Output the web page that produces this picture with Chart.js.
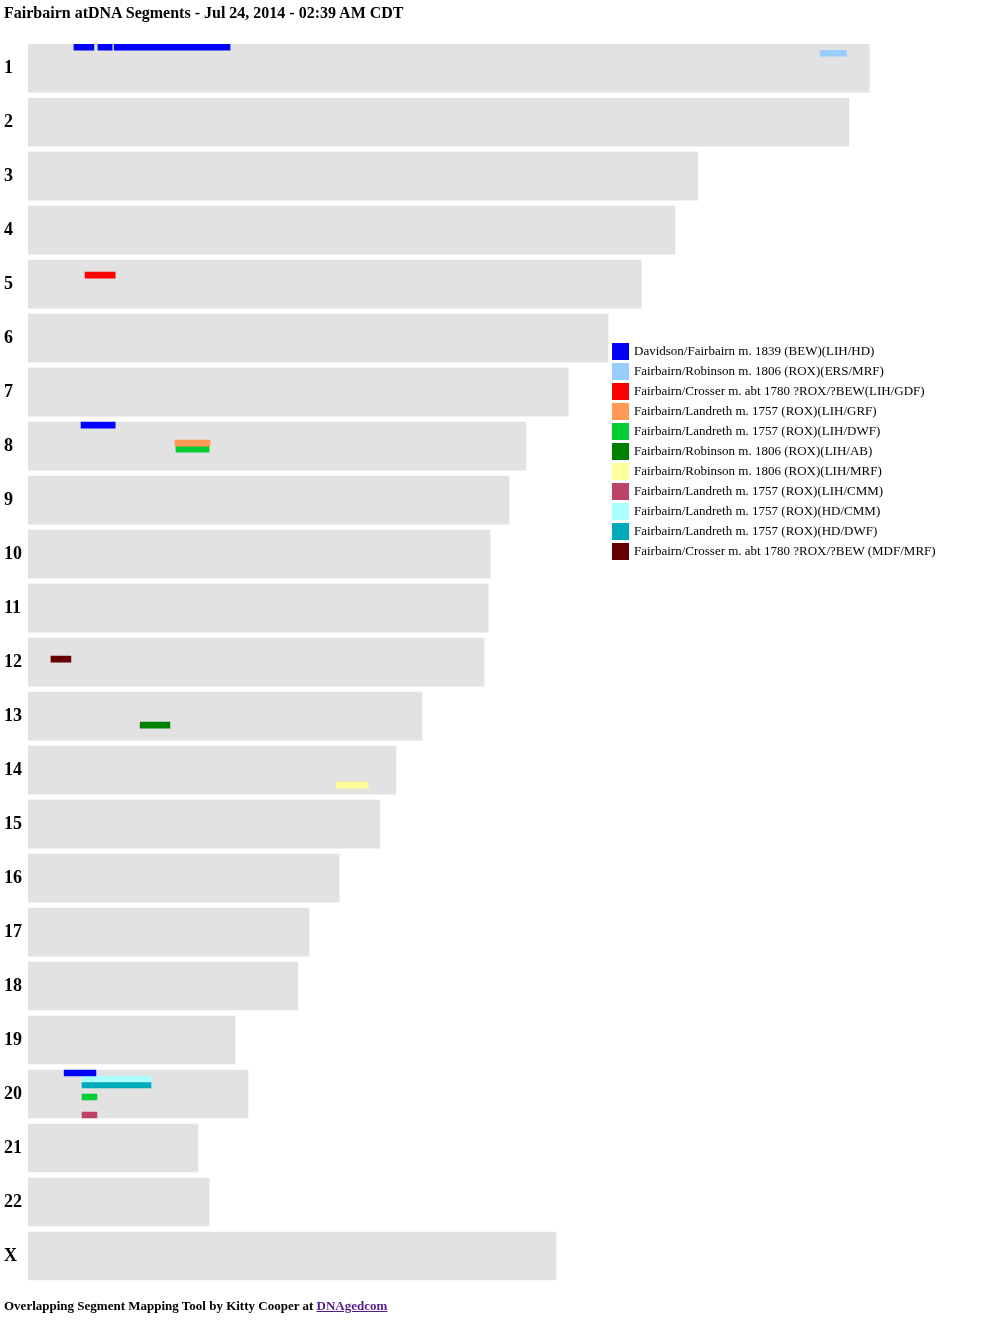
<!DOCTYPE html>
<html>
<head>
<meta charset="utf-8">
<script src="https://cdn.jsdelivr.net/npm/chart.js@4"></script>
<style>
  body { margin: 0; font-family: "Liberation Serif", serif; background: #fff; }
  #title { position: absolute; left: 4px; top: 4px; font-weight: bold; font-size: 16px; }
  #wrap { position: absolute; left: 0; top: 0; width: 998px; height: 1325px; }
  #legend { position: absolute; left: 612px; top: 343px; font-size: 13px; }
  #legend div { height: 20px; line-height: 16px; white-space: nowrap; }
  #legend span { display: inline-block; width: 17px; height: 17px; vertical-align: top; margin-right: 5px; }
  #foot { position: absolute; left: 4px; top: 1298px; font-weight: bold; font-size: 13px; }
  #foot a { color: #551a8b; }
</style>
</head>
<body>
<div id="wrap"><canvas id="c"></canvas></div>
<div id="title">Fairbairn atDNA Segments - Jul 24, 2014 - 02:39 AM CDT</div>
<div id="legend"></div>
<div id="foot">Overlapping Segment Mapping Tool by Kitty Cooper at <a href="#">DNAgedcom</a></div>
<script>
// chromosomes and lengths (Mb)
const chromosomes = ['1','2','3','4','5','6','7','8','9','10','11','12','13','14','15','16','17','18','19','20','21','22','X'];
const lengths = [249.0, 243.0, 198.3, 191.5, 181.5, 171.7, 159.9, 147.4, 142.4, 136.8, 136.2, 135.0,
                 116.6, 108.9, 104.1, 92.1, 83.2, 79.9, 61.3, 65.1, 50.3, 53.6, 156.3];

const groups = [
  'Davidson/Fairbairn m. 1839 (BEW)(LIH/HD)',
  'Fairbairn/Robinson m. 1806 (ROX)(ERS/MRF)',
  'Fairbairn/Crosser m. abt 1780 ?ROX/?BEW(LIH/GDF)',
  'Fairbairn/Landreth m. 1757 (ROX)(LIH/GRF)',
  'Fairbairn/Landreth m. 1757 (ROX)(LIH/DWF)',
  'Fairbairn/Robinson m. 1806 (ROX)(LIH/AB)',
  'Fairbairn/Robinson m. 1806 (ROX)(LIH/MRF)',
  'Fairbairn/Landreth m. 1757 (ROX)(LIH/CMM)',
  'Fairbairn/Landreth m. 1757 (ROX)(HD/CMM)',
  'Fairbairn/Landreth m. 1757 (ROX)(HD/DWF)',
  'Fairbairn/Crosser m. abt 1780 ?ROX/?BEW (MDF/MRF)'
];
const colors = ['#0000ff','#99ccff','#ff0000','#ff9955','#00cc33','#008000','#ffff99','#bb4466','#aaffff','#00aabb','#660000'];

// segments: [group, chromosome, start, end, lane]
const segments = [
  [0, '1', 13.6, 19.5, 0],
  [0, '1', 20.7, 24.9, 0],
  [0, '1', 25.5, 59.8, 0],
  [1, '1', 234.5, 242.2, 1],
  [2, '5', 16.9, 25.8, 2],
  [0, '8', 15.7, 25.8, 0],
  [3, '8', 43.5, 53.9, 3],
  [4, '8', 43.8, 53.6, 4],
  [10, '12', 6.8, 12.7, 3],
  [5, '13', 33.2, 42.0, 5],
  [6, '14', 91.2, 100.7, 6],
  [0, '20', 10.7, 20.1, 0],
  [8, '20', 16.0, 36.4, 1],
  [9, '20', 16.0, 36.4, 2],
  [4, '20', 16.0, 20.4, 4],
  [7, '20', 16.0, 20.4, 7]
];

const LANES = 9;

const datasets = [{
  data: lengths.map((l, i) => ({ x: [0, l], y: i * LANES + 4 })),
  backgroundColor: '#e2e2e2',
  barThickness: 48,
  grouped: false,
  order: 1
}];
groups.forEach((g, gi) => {
  datasets.push({
    label: g,
    data: segments.filter(s => s[0] === gi).map(s => ({
      x: [s[2], s[3]],
      y: chromosomes.indexOf(s[1]) * LANES + s[4] + 0.5
    })),
    backgroundColor: colors[gi],
    barThickness: 6,
    grouped: false,
    order: 0
  });
});

document.getElementById('legend').innerHTML = groups.map((g, i) =>
  '<div><span style="background:' + colors[i] + '"></span>' + g + '</div>').join('');

new Chart(document.getElementById('c'), {
  type: 'bar',
  data: { datasets },
  options: {
    indexAxis: 'y',
    responsive: true,
    maintainAspectRatio: false,
    animation: false,
    layout: { padding: { top: 16, bottom: 4, left: 4, right: 24 } },
    plugins: { legend: { display: false }, tooltip: { enabled: false } },
    scales: {
      x: { type: 'linear', min: 0, max: 280, display: false },
      y: {
        type: 'linear', min: 0, max: chromosomes.length * LANES, reverse: true,
        grid: { display: false }, border: { display: false },
        afterBuildTicks: axis => { axis.ticks = chromosomes.map((c, i) => ({ value: i * LANES + 4 })); },
        afterFit: axis => { axis.width = 24; },
        ticks: {
          crossAlign: 'far', padding: 0, color: '#000',
          font: { family: 'Liberation Serif', weight: 'bold', size: 18 },
          callback: v => chromosomes[Math.round((v - 4) / LANES)]
        }
      }
    }
  }
});
</script>
</body>
</html>
